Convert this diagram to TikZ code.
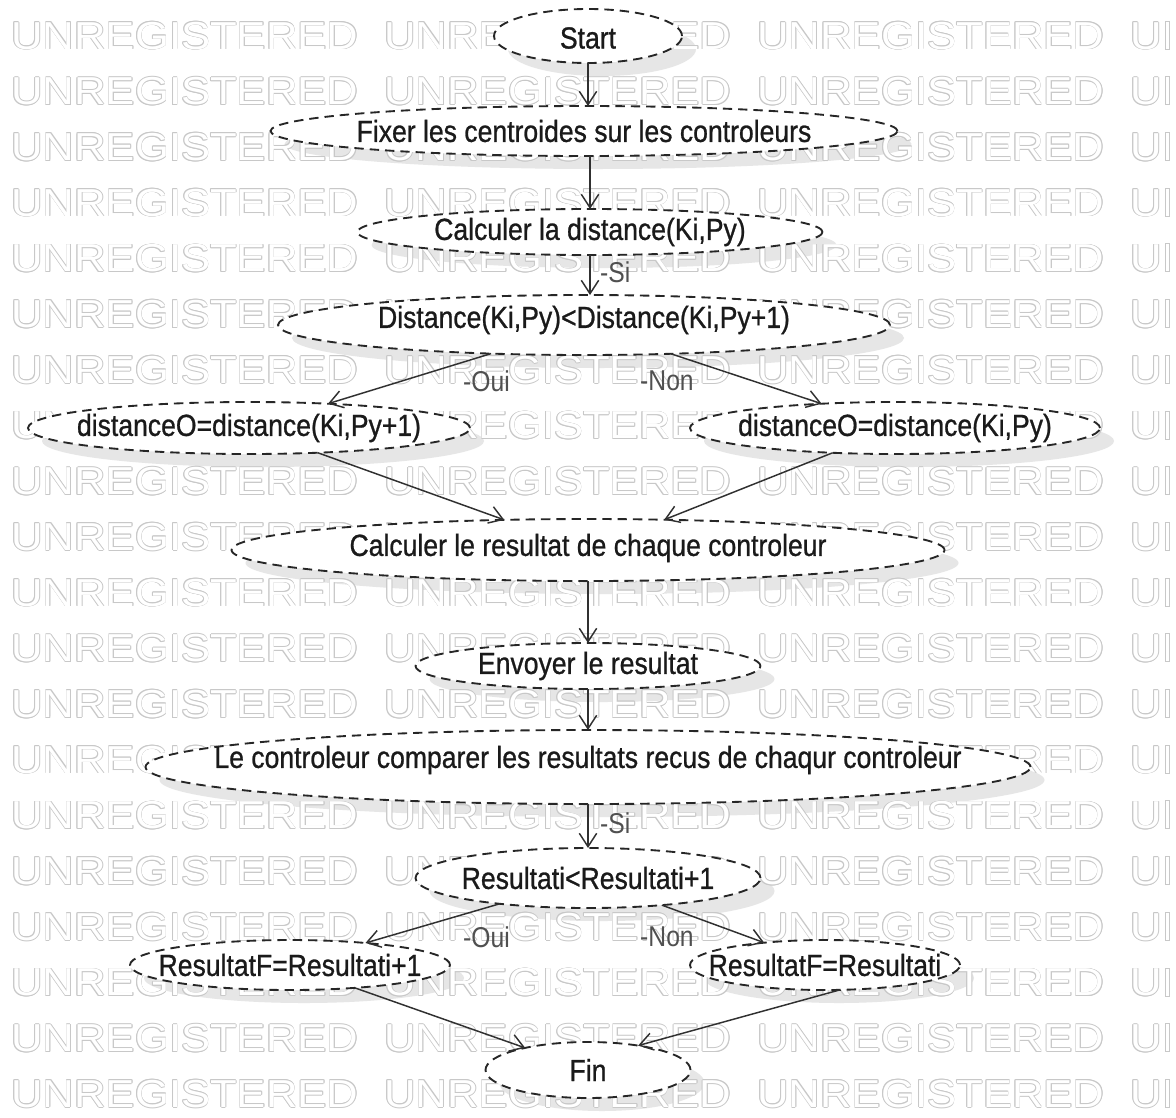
\documentclass[tikz,border=0pt]{standalone}
\usepackage{fontspec}
\setmainfont{Liberation Sans}
\newfontfamily\markfont{Liberation Sans}
\newfontfamily\stepfont[FakeBold=0.9]{Liberation Sans}
\usetikzlibrary{shapes.geometric,arrows.meta,calc}
\pgfdeclarelayer{shade}
\pgfdeclarelayer{mark}
\pgfsetlayers{shade,mark,main}

\definecolor{ink}{HTML}{262626}
\definecolor{inktext}{HTML}{1A1A1A}
\definecolor{wire}{HTML}{303030}
\definecolor{shadowc}{HTML}{E6E6E6}
\definecolor{markline}{HTML}{C8C8C8}
\definecolor{tagc}{HTML}{505050}

\newcommand\markwords{UNREGISTERED\hspace{17.4pt}UNREGISTERED\hspace{17.4pt}UNREGISTERED\hspace{17.4pt}U}

\begin{document}
\begin{tikzpicture}[x=0.75pt,y=-0.75pt,
  stage/.style={ellipse, draw=ink, fill=white, line width=1.4pt,
    dash pattern=on 7pt off 4.5pt, inner sep=0pt, outer sep=0pt},
  dims/.style 2 args={minimum width=#1*0.75pt, minimum height=#2*0.75pt},
  caption/.style={text=inktext, font=\stepfont\fontsize{22.9pt}{26pt}\selectfont, inner sep=0pt, xscale=0.87},
  flow/.style={draw=wire, line width=1.1pt,
    -{Straight Barb[length=10pt,width=13pt]}},
  tag/.style={text=tagc, font=\fontsize{21.5pt}{24pt}\selectfont, inner sep=0pt, anchor=west, xscale=0.86},
  markrow/.style={font=\markfont\fontsize{29.25pt}{30pt}\selectfont,
    inner sep=0pt, anchor=base west, xscale=1.12},
]
\useasboundingbox (0,0) rectangle (1176,1117);

% page background
\begin{pgfonlayer}{shade}
  \fill[white] (0,0) rectangle (1176,1117);
\end{pgfonlayer}

% outlined watermark rows; each row ends with the first stem of a cut N
\begin{pgfonlayer}{mark}
  \foreach \k in {0,...,19}{
    \foreach \dx/\dy in {-0.8/0,0.8/0,0/-0.8,0/0.8,-0.6/-0.6,0.6/-0.6,-0.6/0.6,0.6/0.6}{
      \node[markrow, text=markline] at (11+\dx, 49+55.7*\k+\dy) {\markwords};
    }
    \node[markrow, text=white] (mk\k) at (11, 49+55.7*\k) {\markwords};
    \draw[draw=markline, fill=white, line width=0.6pt]
      ($(mk\k.base east)+(3.3,0)$) rectangle ++(4.2,-28);
  }
\end{pgfonlayer}

% steps of the procedure
\node[stage, dims={188}{54}, label={[caption, yshift=-1.5pt]center:Start}] (start) at (588,36) {};
\node[stage, dims={627}{50}, label={[caption]center:Fixer les centroides sur les controleurs}] (fix) at (584,131) {};
\node[stage, dims={465}{46}, label={[caption]center:{Calculer la distance(Ki,Py)}}] (calcd) at (590,232) {};
\node[stage, dims={612}{60}, label={[caption, yshift=3.75pt]center:{Distance(Ki,Py)<Distance(Ki,Py+1)}}] (dist) at (584,325) {};
\node[stage, dims={442}{52}, label={[caption]center:{distanceO=distance(Ki,Py+1)}}] (dyes) at (249,428) {};
\node[stage, dims={410}{52}, label={[caption]center:{distanceO=distance(Ki,Py)}}] (dno) at (895,428) {};
\node[stage, dims={713}{62}, label={[caption, yshift=1.5pt]center:Calculer le resultat de chaque controleur}] (calc2) at (588,550) {};
\node[stage, dims={345}{46}, label={[caption]center:Envoyer le resultat}] (env) at (588,666) {};
\node[stage, dims={885}{74}, label={[caption, yshift=5.25pt]center:Le controleur comparer les resultats recus de chaqur controleur}] (comp) at (588,767) {};
\node[stage, dims={345}{60}, label={[caption]center:{Resultati<Resultati+1}}] (res) at (588,878) {};
\node[stage, dims={320}{50}, label={[caption]center:{ResultatF=Resultati+1}}] (rfa) at (290,965) {};
\node[stage, dims={270}{50}, label={[caption]center:{ResultatF=Resultati}}] (rfb) at (825,965) {};
\node[stage, dims={205}{56}, label={[caption]center:Fin}] (fin) at (588,1070) {};

% drop shadows under the watermark
\begin{pgfonlayer}{shade}
  \foreach \nd in {start,fix,calcd,dist,dyes,dno,calc2,env,comp,res,rfa,rfb,fin}{
    \path let \p0=(\nd.center), \p1=(\nd.east), \p2=(\nd.north) in
      [fill=shadowc] (\x0+10.5pt,\y0-9.75pt) ellipse [x radius=\x1-\x0, y radius=\y2-\y0];
  }
\end{pgfonlayer}

% connectors
\draw[flow] (start) -- (start |- fix.north);
\draw[flow] (calcd |- fix.south) -- (calcd);
\draw[flow] (calcd) -- (calcd |- dist.north);
\draw[flow] (dist) -- (dyes);
\draw[flow] (dist) -- (dno);
\draw[flow] (dyes) -- (calc2);
\draw[flow] (dno) -- (calc2);
\draw[flow] (calc2) -- (calc2 |- env.north);
\draw[flow] (env) -- (env |- comp.north);
\draw[flow] (comp) -- (comp |- res.north);
\draw[flow] (res) -- (rfa);
\draw[flow] (res) -- (rfb);
\draw[flow] (rfa) -- (fin);
\draw[flow] (rfb.-59) -- (fin.26);

% branch labels
\node[tag] (si1) at (600,272) {-Si};
\node[tag] (oui1) at (463,381) {-Oui};
\node[tag] (non1) at (640,381) {-Non};
\node[tag] (si2) at (600,823) {-Si};
\node[tag] (oui2) at (463,937) {-Oui};
\node[tag] (non2) at (640,937) {-Non};
\end{tikzpicture}
\end{document}
